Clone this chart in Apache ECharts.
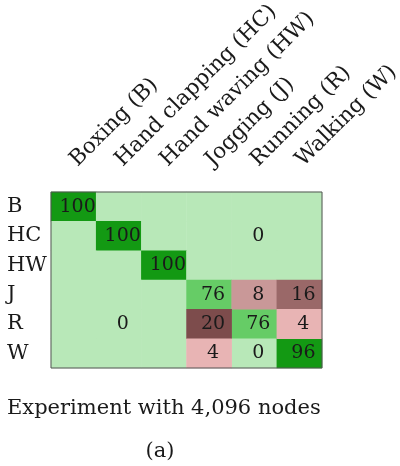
<!DOCTYPE html>
<html>
<head>
<meta charset="utf-8">
<script src="https://cdn.jsdelivr.net/npm/echarts@6/dist/echarts.min.js"></script>
<style>html,body{margin:0;padding:0;background:#fff}#c{width:400px;height:466px}</style>
</head>
<body>
<div id="c"></div>
<script>
const colLabels = ['Boxing (B)', 'Hand clapping (HC)', 'Hand waving (HW)', 'Jogging (J)', 'Running (R)', 'Walking (W)'];
const rowLabels = ['B', 'HC', 'HW', 'J', 'R', 'W'];
const rowB  = [100, 0, 0, 0, 0, 0];
const rowHC = [0, 100, 0, 0, 0, 0];
const rowHW = [0, 0, 100, 0, 0, 0];
const rowJ  = [0, 0, 0, 76, 8, 16];
const rowR  = [0, 0, 0, 20, 76, 4];
const rowW  = [0, 0, 0, 4, 0, 96];
// cells [col,row] whose value is printed
const labelCells = [[0,0],[1,1],[2,2],[3,3],[4,3],[5,3],[3,4],[4,4],[5,4],[3,5],[4,5],[5,5],[4,1],[1,4]];
const caption = 'Experiment with 4,096 nodes';
const subCaption = '(a)';

const matrix = [rowB, rowHC, rowHW, rowJ, rowR, rowW];
const FONT = 'DejaVu Serif';
const isLabeled = (c, r) => labelCells.some(p => p[0] === c && p[1] === r);
const correct = [], errors = [];
matrix.forEach((row, r) => row.forEach((v, c) => {
  const item = { value: [c, r, v], label: { show: isLabeled(c, r) } };
  if (r === c || v === 0) correct.push(item); else errors.push(item);
}));

const labelStyle = { fontFamily: FONT, fontSize: 19, color: '#1a1a1a', offset: [4, 0], formatter: p => String(p.value[2]) };

const chart = echarts.init(document.getElementById('c'), null, { renderer: 'canvas' });
chart.setOption({
  animation: false,
  grid: { left: 51, top: 192, width: 271, height: 176, outerBoundsMode: 'none', containLabel: false, show: true, borderColor: '#555', borderWidth: 1, backgroundColor: 'transparent', z: 10 },
  xAxis: {
    type: 'category', data: colLabels, position: 'top',
    axisLine: { show: false }, axisTick: { show: false }, splitLine: { show: false },
    axisLabel: { rotate: -45, margin: 29, interval: 0, fontFamily: FONT, fontSize: 21.5, color: '#1a1a1a' }
  },
  yAxis: {
    type: 'category', data: rowLabels, inverse: true,
    axisLine: { show: false }, axisTick: { show: false }, splitLine: { show: false },
    axisLabel: { align: 'left', margin: 44, interval: 0, fontFamily: FONT, fontSize: 21, color: '#1a1a1a' }
  },
  visualMap: [
    { type: 'piecewise', show: false, seriesIndex: 0, dimension: 2,
      pieces: [ { min: 0, max: 0, color: '#b8e8b8' }, { gt: 0, lte: 85, color: '#66cc66' }, { gt: 85, lte: 100, color: '#139913' } ] },
    { type: 'continuous', show: false, seriesIndex: 1, dimension: 2, min: 0, max: 20,
      inRange: { color: ['#ffd0d0', '#e8b4b4', '#c99898', '#b28080', '#9a6868', '#7d4c4c'] } }
  ],
  series: [
    { type: 'heatmap', data: correct, label: labelStyle, itemStyle: { borderWidth: 0 }, emphasis: { disabled: true } },
    { type: 'heatmap', data: errors, label: labelStyle, itemStyle: { borderWidth: 0 }, emphasis: { disabled: true } }
  ],
  graphic: [
    { type: 'text', left: 7, top: 398, style: { text: caption, fontFamily: FONT, fontSize: 21, fill: '#1a1a1a' } },
    { type: 'text', x: 160, y: 452, style: { text: subCaption, fontFamily: FONT, fontSize: 21, fill: '#1a1a1a', align: 'center', verticalAlign: 'middle' } }
  ]
});
</script>
</body>
</html>
